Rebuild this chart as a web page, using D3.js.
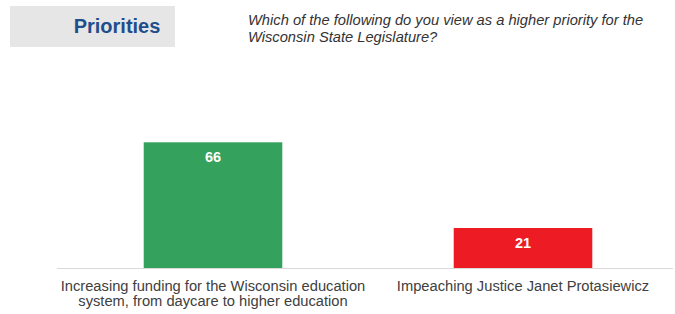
<!DOCTYPE html>
<html><head><meta charset="utf-8">
<script src="https://cdn.jsdelivr.net/npm/d3@7"></script>
<style>body{margin:0;background:#fff;}svg{display:block;font-family:"Liberation Sans",Arial,sans-serif;}</style>
</head><body>
<script>
const categories = [["Increasing funding for the Wisconsin education","system, from daycare to higher education"],["Impeaching Justice Janet Protasiewicz"]];
const values = [66, 21];
const colors = ["#34a15c", "#ed1c24"];
const title = "Priorities";
const question = ["Which of the following do you view as a higher priority for the","Wisconsin State Legislature?"];

const W = 675, H = 314;
const svg = d3.select("body").append("svg").attr("width", W).attr("height", H);
const baseY = 268;
const x = d3.scaleBand().domain(d3.range(values.length)).range([58, 678]).paddingInner(0.553).paddingOuter(0.2765);
const y = d3.scaleLinear().domain([0, 66]).range([baseY, 142.3]);

svg.append("rect").attr("x", 10).attr("y", 6).attr("width", 165).attr("height", 41).attr("fill", "#e6e6e6");
svg.append("text").attr("x", 117).attr("y", 33).attr("text-anchor", "middle").attr("font-size", 20).attr("font-weight", "bold").attr("fill", "#1f4e8c").text(title);
svg.append("g").selectAll("text").data(question).join("text")
  .attr("x", 248).attr("y", (d, i) => 25 + i * 17).attr("font-size", 14.7).attr("font-style", "italic").attr("fill", "#333").text(d => d);

svg.append("g").selectAll("rect").data(values).join("rect")
  .attr("x", (d, i) => x(i)).attr("width", x.bandwidth())
  .attr("y", d => y(d)).attr("height", d => baseY - y(d))
  .attr("fill", (d, i) => colors[i]);

svg.append("line").attr("x1", 57).attr("x2", 673).attr("y1", baseY + 0.5).attr("y2", baseY + 0.5).attr("stroke", "#d9d9d9");

svg.append("g").selectAll("text").data(values).join("text")
  .attr("x", (d, i) => x(i) + x.bandwidth() / 2).attr("y", d => y(d) + 20)
  .attr("text-anchor", "middle").attr("font-size", 14.5).attr("font-weight", "bold").attr("fill", "#fff").text(d => d);

const lg = svg.append("g");
categories.forEach((lines, i) => {
  lg.append("text").attr("x", x(i) + x.bandwidth() / 2).attr("y", 291)
    .attr("text-anchor", "middle").attr("font-size", 14.7).attr("fill", "#404040")
    .selectAll("tspan").data(lines).join("tspan")
    .attr("x", x(i) + x.bandwidth() / 2).attr("dy", (d, j) => j === 0 ? 0 : 15).text(d => d);
});
</script>
</body></html>
